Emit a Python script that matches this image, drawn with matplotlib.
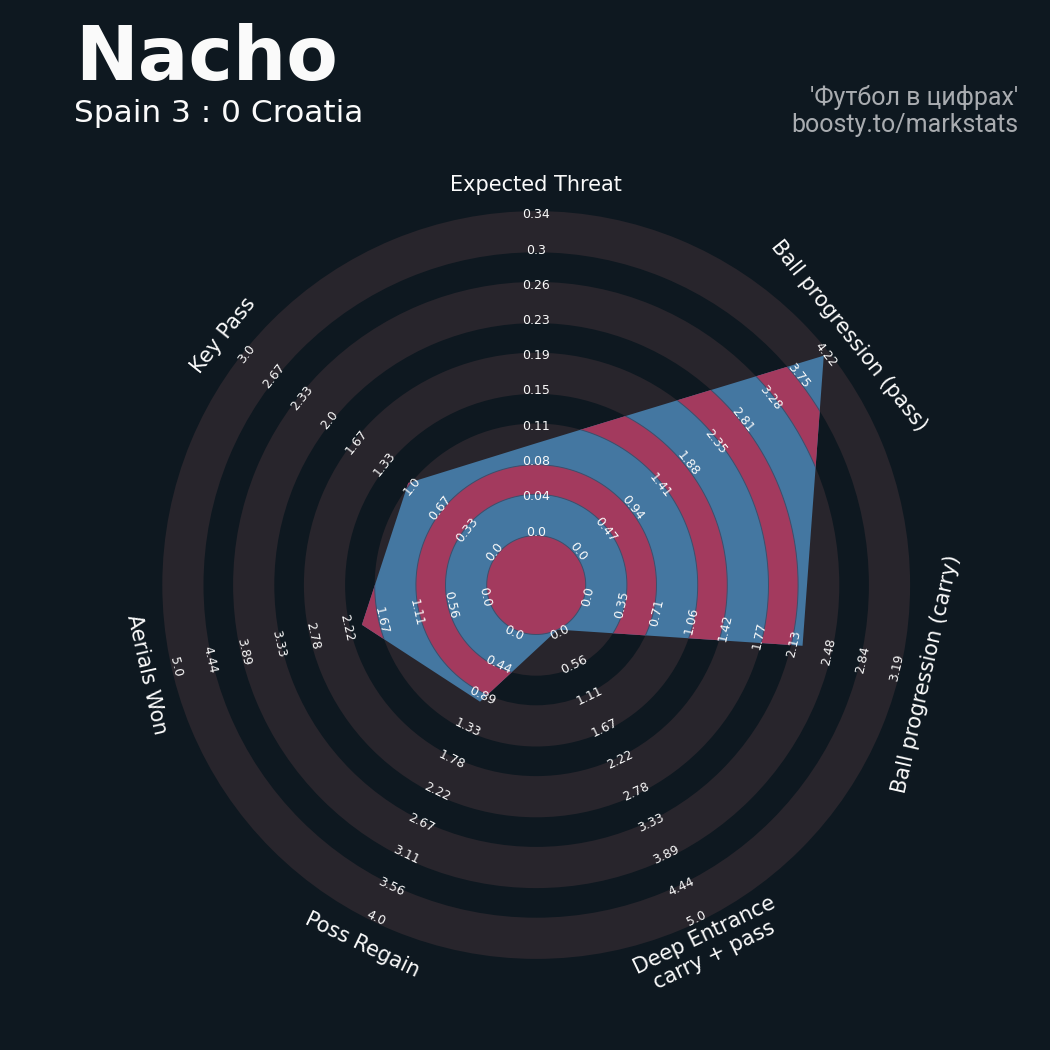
import numpy as np
import matplotlib
matplotlib.use("Agg")
import matplotlib.pyplot as plt

# ---------------- data ----------------
params = ["Expected Threat", "Ball progression (pass)", "Ball progression (carry)",
          "Deep Entrance\ncarry + pass", "Poss Regain", "Aerials Won", "Key Pass"]
low = [0.0, 0.0, 0.0, 0.0, 0.0, 0.0, 0.0]
high = [0.34, 4.222, 3.19, 5.0, 4.0, 5.0, 3.0]
values = [0.098, 4.2, 2.23, 0.0, 1.0, 2.02, 1.07]

labels_xt = ["0.0", "0.04", "0.08", "0.11", "0.15", "0.19", "0.23", "0.26", "0.3", "0.34"]
labels_pass = ["0.0", "0.47", "0.94", "1.41", "1.88", "2.35", "2.81", "3.28", "3.75", "4.22"]
labels_carry = ["0.0", "0.35", "0.71", "1.06", "1.42", "1.77", "2.13", "2.48", "2.84", "3.19"]
labels_deep = ["0.0", "0.56", "1.11", "1.67", "2.22", "2.78", "3.33", "3.89", "4.44", "5.0"]
labels_regain = ["0.0", "0.44", "0.89", "1.33", "1.78", "2.22", "2.67", "3.11", "3.56", "4.0"]
labels_aerial = ["0.0", "0.56", "1.11", "1.67", "2.22", "2.78", "3.33", "3.89", "4.44", "5.0"]
labels_key = ["0.0", "0.33", "0.67", "1.0", "1.33", "1.67", "2.0", "2.33", "2.67", "3.0"]
range_labels = [labels_xt, labels_pass, labels_carry, labels_deep,
                labels_regain, labels_aerial, labels_key]

title = "Nacho"
subtitle = "Spain 3 : 0 Croatia"
credit1 = "'Футбол в цифрах'"
credit2 = "boosty.to/markstats"

# ---------------- style ----------------
BG = "#0e1820"
GRAY = "#28252c"
BLUE = "#4477a1"
RED = "#a33a5e"
EDGE = "#3c4f6c"
TXT = "#fafafa"
CREDIT = "#a9acb0"

W = 1050
cx, cy = 536.2, 465.0     # radar centre in figure pixels (from bottom)
R = 410                   # axes radius in pixels -> r units == pixels
R0 = 49.5                 # centre circle radius
SPAN = 320.0              # radius span of the value scale
LAB0 = 53.0               # radius of first range label
LABSTEP = 35.25           # spacing of range labels
PERIOD = 70.8
GRAY_W = 41.2
LABEL_R = 400

fig = plt.figure(figsize=(10.5, 10.5), dpi=100, facecolor=BG)
ax = fig.add_axes([(cx - R) / W, (cy - R) / W, 2 * R / W, 2 * R / W], projection="polar")
ax.set_theta_zero_location("N")
ax.set_theta_direction(-1)
ax.set_ylim(0, R)
ax.set_axis_off()

n = len(params)
thetas = np.arange(n) * 2 * np.pi / n

# gray rings
for j in range(5):
    ax.bar(0, GRAY_W, width=2 * np.pi, bottom=R0 + j * PERIOD, color=GRAY,
           edgecolor="none", zorder=1)

# radar polygon
radii = [R0 + (v - lo) / (hi - lo) * SPAN for v, lo, hi in zip(values, low, high)]
poly = ax.fill(thetas, radii, color=BLUE, zorder=2, edgecolor="none")[0]

# red rings inside polygon
red_bands = [(0, R0)] + [(R0 + GRAY_W + j * PERIOD, PERIOD - GRAY_W) for j in range(4)]
tgrid = np.linspace(0, 2 * np.pi, 400)
for b, h in red_bands:
    bars = ax.bar(0, h, width=2 * np.pi, bottom=b, color=RED, edgecolor="none", zorder=3)
    for p in bars.patches:
        p.set_clip_path(poly)
    for rr in ([b + h] if b == 0 else [b, b + h]):
        ln, = ax.plot(tgrid, np.full_like(tgrid, rr), color=EDGE, lw=0.7, zorder=4)
        ln.set_clip_path(poly)


def rot_for(theta):
    a = 90 - np.degrees(theta)
    a = (a + 180) % 360 - 180
    if 0 <= a <= 180:
        return a - 90 if a != 180 else 90
    return a + 90


for i in range(n):
    rot = rot_for(thetas[i])
    for k, lab in enumerate(range_labels[i]):
        ax.text(thetas[i], LAB0 + k * LABSTEP, lab, rotation=rot, rotation_mode="anchor",
                ha="center", va="center", fontsize=9, color=TXT, zorder=6)
    ax.text(thetas[i], LABEL_R, params[i], rotation=rot, rotation_mode="anchor",
            ha="center", va="center", fontsize=15, color=TXT, zorder=6,
            multialignment="center", linespacing=1.15)

# titles
fig.text(75 / W, 1 - 80 / W, title, fontsize=54, fontweight="bold", color=TXT,
         ha="left", va="baseline", family="DejaVu Sans")
fig.text(74 / W, 1 - 122 / W, subtitle, fontsize=22.5, color=TXT,
         ha="left", va="baseline", family="DejaVu Sans")
fig.text(1018 / W, 1 - 105 / W, credit1, fontsize=18, color=CREDIT,
         ha="right", va="baseline", family="Roboto")
fig.text(1018 / W, 1 - 132 / W, credit2, fontsize=18, color=CREDIT,
         ha="right", va="baseline", family="Roboto")

fig.savefig("out.png", dpi=100, facecolor=BG)
